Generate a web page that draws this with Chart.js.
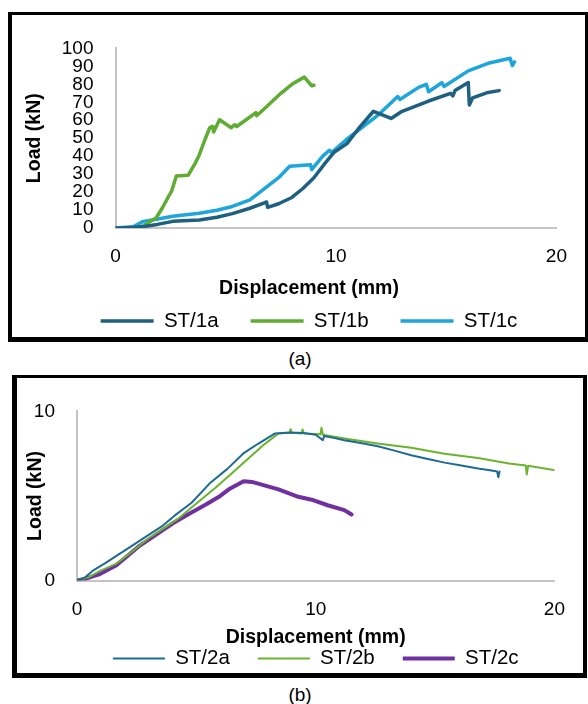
<!DOCTYPE html>
<html><head><meta charset="utf-8">
<script src="https://cdn.jsdelivr.net/npm/chart.js@4.4.1/dist/chart.umd.min.js"></script>
<style>
html,body{margin:0;padding:0;background:#fff;width:588px;height:704px;overflow:hidden;font-family:"Liberation Sans",Arial,sans-serif;}
.wrap{position:absolute;}
.frame{position:absolute;box-sizing:border-box;border-style:solid;border-color:#000;pointer-events:none;z-index:2;}
.cap{position:absolute;width:100px;text-align:center;font-size:19px;color:#000;line-height:22px;}
</style></head><body>
<div class="wrap" style="left:12px;top:15px;width:572px;height:330px;"><canvas id="ca"></canvas></div>
<div class="frame" style="left:8px;top:12px;width:580px;height:330px;border-width:3px 3px 5px 4px;"></div>
<div class="cap" style="left:250px;top:348px;">(a)</div>
<div class="wrap" style="left:16px;top:378px;width:567px;height:302px;"><canvas id="cb"></canvas></div>
<div class="frame" style="left:12px;top:375px;width:575px;height:303px;border-width:3px 4px 5px 5px;"></div>
<div class="cap" style="left:250px;top:684px;">(b)</div>
<script>
// ---------- data : panel (a) ----------
const xTicks = [0, 10, 20];
const yTicksA = [0, 10, 20, 30, 40, 50, 60, 70, 80, 90, 100];
const yTicksB = [0, 10];
const seriesA = ['ST/1a', 'ST/1b', 'ST/1c'];
const seriesB = ['ST/2a', 'ST/2b', 'ST/2c'];

const st1aX = [0, 0.5, 1.0, 1.3, 1.9, 2.6, 3.8, 4.6, 5.3, 6.1, 6.75, 6.85, 6.9, 7.4, 8.0, 8.5, 9.0, 9.5, 9.9, 10.5, 11.0, 11.7, 12.5, 13.0, 14.2, 15.2, 15.3, 15.4, 16.0, 16.05, 16.2, 16.9, 17.4];
const st1aY = [0, 0.2, 0.5, 0.9, 2, 3.7, 4.5, 6, 8, 11, 14, 14.5, 11.5, 13.5, 17, 22, 28, 36, 42, 47, 55, 65, 61, 65, 70.7, 75, 73.5, 76.5, 81, 68.5, 72.5, 75.5, 76.5];

const st1bX = [1.1, 1.5, 1.85, 2.1, 2.4, 2.55, 2.76, 3.3, 3.6, 3.8, 4.05, 4.27, 4.4, 4.45, 4.72, 5.25, 5.4, 5.5, 6.37, 6.4, 6.85, 7.5, 8.0, 8.56, 8.9, 9.0];
const st1bY = [0, 3, 5.7, 10.7, 17.4, 20.7, 29, 29.4, 35.7, 40.7, 49, 55.8, 56.6, 53.5, 60.3, 55.8, 57.5, 56.5, 64.2, 62.5, 67.5, 75, 80, 84, 79.2, 79.5];

const st1cX = [0, 0.8, 1.26, 1.86, 2.6, 3.8, 4.6, 5.3, 6.1, 6.8, 7.4, 7.9, 8.85, 8.9, 9.4, 9.7, 9.8, 10.45, 11.35, 11.95, 12.8, 12.9, 13.75, 14.1, 14.2, 14.8, 14.9, 16.0, 16.9, 17.9, 18.0, 18.1];
const st1cY = [0, 0.7, 3.7, 4.9, 6.5, 8.2, 9.9, 12, 15.7, 22.4, 28, 34.4, 35.2, 32.5, 40, 43.3, 42, 49, 57.5, 63.3, 73.2, 71.5, 78.3, 80, 75.9, 80.9, 78.8, 87.5, 91.7, 94.5, 90.5, 92.5];

// ---------- data : panel (b) ----------
const st2aX = [0, 0.3, 0.7, 1.2, 1.7, 2.3, 3.0, 3.6, 4.1, 4.8, 5.6, 6.3, 7.0, 7.6, 8.3, 8.9, 9.5, 10.0, 10.3, 10.35, 10.8, 11.2, 12.0, 12.6, 13.3, 14.0, 14.7, 15.4, 16.1, 16.8, 17.3, 17.6, 17.65, 17.7];
const st2aY = [0, 0.15, 0.62, 1.04, 1.5, 2.05, 2.7, 3.25, 3.85, 4.6, 5.8, 6.6, 7.55, 8.1, 8.7, 8.75, 8.72, 8.62, 8.3, 8.55, 8.42, 8.3, 8.1, 7.94, 7.68, 7.41, 7.18, 6.97, 6.8, 6.62, 6.52, 6.45, 6.1, 6.45];

const st2bX = [0, 0.5, 0.95, 1.65, 2.3, 3.0, 3.6, 4.3, 5.0, 5.8, 6.5, 7.2, 7.8, 8.44, 8.9, 8.95, 9.0, 9.4, 9.45, 9.5, 10.2, 10.24, 10.3, 11.2, 12.6, 14.0, 15.4, 16.8, 18.1, 18.8, 18.84, 18.9, 20.1];
const st2bY = [0, 0.2, 0.55, 1.0, 1.7, 2.5, 3.05, 3.72, 4.55, 5.48, 6.35, 7.24, 8.0, 8.7, 8.73, 8.95, 8.73, 8.7, 8.93, 8.7, 8.65, 9.03, 8.62, 8.4, 8.1, 7.85, 7.5, 7.24, 6.92, 6.8, 6.27, 6.78, 6.5];

const st2cX = [0, 0.4, 0.96, 1.65, 2.2, 2.62, 3.3, 4.0, 4.7, 5.4, 6.0, 6.36, 6.98, 7.33, 8.44, 9.27, 9.83, 10.5, 11.2, 11.5];
const st2cY = [0, 0.12, 0.38, 0.9, 1.55, 2.05, 2.7, 3.37, 3.95, 4.5, 5.0, 5.39, 5.87, 5.83, 5.39, 4.95, 4.78, 4.45, 4.16, 3.9];

// ---------- helpers ----------
const pts = (xs, ys) => xs.map((x, i) => ({x: x, y: ys[i]}));
function ds(label, xs, ys, color, w) {
  return {label: label, data: pts(xs, ys), borderColor: color, backgroundColor: color,
    borderWidth: w, pointRadius: 0, pointHoverRadius: 0, tension: 0,
    borderCapStyle: 'round', borderJoinStyle: 'round', fill: false};
}
const FONT = '"Liberation Sans", Arial, sans-serif';
Chart.defaults.font.family = FONT;
Chart.defaults.color = '#000';
const axisBorder = {display: true, color: '#c4c4c4', width: 2};
const tickList = arr => (s => { s.ticks = arr.map(v => ({value: v})); });

// ---------- chart (a) ----------
new Chart(document.getElementById('ca'), {
  type: 'line',
  data: {datasets: [
    ds(seriesA[0], st1aX, st1aY, '#1f5f80', 3.5),
    ds(seriesA[1], st1bX, st1bY, '#5eac32', 3.5),
    ds(seriesA[2], st1cX, st1cY, '#1da5dc', 3.5)
  ]},
  options: {
    responsive: true, maintainAspectRatio: false, animation: false,
    layout: {padding: {left: 48, right: 26, top: 13, bottom: 3.75}},
    plugins: {
      legend: {position: 'bottom', fullSize: true,
        labels: {usePointStyle: true, pointStyle: 'line', pointStyleWidth: 53, padding: 32,
          font: {size: 20.5}, color: '#000'}},
      title: {display: true, position: 'bottom', weight: 500, fullSize: true,
        text: 'Displacement (mm)', color: '#000',
        font: {size: 19.5, weight: 'bold'}, padding: {top: 3.5, bottom: -21.15}},
      tooltip: {enabled: false}
    },
    scales: {
      x: {type: 'linear', min: 0, max: 20, afterBuildTicks: tickList(xTicks),
        grid: {display: false, drawTicks: false}, border: axisBorder,
        ticks: {padding: 17, font: {size: 19}, maxRotation: 0},
        afterFit: s => { s.height = 45; }},
      y: {type: 'linear', min: 0, max: 100, afterBuildTicks: tickList(yTicksA),
        grid: {display: false, drawTicks: false}, border: axisBorder,
        ticks: {autoSkip: false, padding: 22, font: {size: 19}},
        title: {display: true, text: 'Load (kN)', color: '#000',
          font: {size: 19.5, weight: 'bold'}, padding: {top: -36.7, bottom: 0}},
        afterFit: s => { s.width = 55.5; }}
    }
  }
});

// ---------- chart (b) ----------
new Chart(document.getElementById('cb'), {
  type: 'line',
  data: {datasets: [
    ds(seriesB[0], st2aX, st2aY, '#1f6a92', 2),
    ds(seriesB[1], st2bX, st2bY, '#6ab42e', 2),
    ds(seriesB[2], st2cX, st2cY, '#7030a0', 4)
  ]},
  options: {
    responsive: true, maintainAspectRatio: false, animation: false,
    layout: {padding: {left: 0, right: 25, top: 13, bottom: 1.25}},
    plugins: {
      legend: {position: 'bottom', fullSize: false,
        labels: {usePointStyle: true, pointStyle: 'line', pointStyleWidth: 52, padding: 28,
          font: {size: 20.5}, color: '#000'}},
      tooltip: {enabled: false}
    },
    scales: {
      x: {type: 'linear', min: 0, max: 20, afterBuildTicks: tickList(xTicks),
        grid: {display: false, drawTicks: false}, border: axisBorder,
        ticks: {padding: 18, font: {size: 19}, maxRotation: 0},
        title: {display: true, text: 'Displacement (mm)', color: '#000',
          font: {size: 19.5, weight: 'bold'}, padding: {top: 0, bottom: -29.45}},
        afterFit: s => { s.height = 39.75; }},
      y: {type: 'linear', min: 0, max: 10, afterBuildTicks: tickList(yTicksB),
        grid: {display: false, drawTicks: false}, border: axisBorder,
        ticks: {autoSkip: false, padding: 22, font: {size: 19}},
        title: {display: true, text: 'Load (kN)', color: '#000',
          font: {size: 19.5, weight: 'bold'}, padding: {top: 8.3, bottom: 0}},
        afterFit: s => { s.width = 61; }}
    }
  }
});
</script>
</body></html>
